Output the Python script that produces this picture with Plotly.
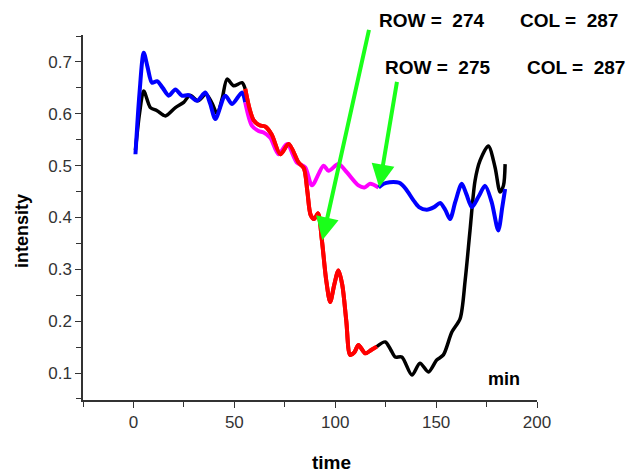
import plotly.graph_objects as go

# ROW 274 (black / red / black)
t274_a = [1, 3, 5.1, 8.4, 11.7, 15.8, 20.8, 24.9, 28, 32, 36, 39, 41.5, 44, 46.4, 49.6, 53.8, 55.4]
v274_a = [0.53, 0.60, 0.644, 0.612, 0.606, 0.596, 0.612, 0.622, 0.636, 0.625, 0.638, 0.62, 0.60, 0.63, 0.667, 0.654, 0.660, 0.648]
t274_b = [55.4, 57.5, 59.5, 62.5, 65.5, 68.5, 72.8, 76.9, 81.8, 84.5, 86.2, 87.8, 89.5, 91.5, 93.4, 95.5, 97.5,
          99.5, 101.6, 103.5, 105.5, 107.4, 109.5, 111.5, 114.9, 118, 120.6]
v274_b = [0.648, 0.61, 0.588, 0.578, 0.575, 0.56, 0.522, 0.542, 0.506, 0.495, 0.45, 0.405, 0.397, 0.408, 0.356, 0.28, 0.237,
          0.27, 0.298, 0.27, 0.20, 0.135, 0.14, 0.154, 0.138, 0.145, 0.151]
t274_c = [120.6, 124.8, 127.5, 129.7, 133, 138, 142, 146.2, 150.3, 153.6, 157.8, 161.9, 164.4, 166.8, 169.3, 171.8,
          175.9, 179.2, 181.7, 183.4, 184.2]
v274_c = [0.151, 0.16, 0.145, 0.131, 0.131, 0.096, 0.119, 0.102, 0.125, 0.135, 0.179, 0.205, 0.279, 0.375, 0.471, 0.51,
          0.538, 0.497, 0.449, 0.462, 0.503]

# ROW 275 (blue / magenta / blue)
t275_a = [1, 3, 5.1, 7, 9.2, 11.7, 14.5, 17.5, 20.8, 24, 27.4, 31.5, 35.6, 38, 40.6, 45.5, 48.9, 53.8, 55.4]
v275_a = [0.522, 0.64, 0.718, 0.69, 0.66, 0.663, 0.65, 0.635, 0.647, 0.635, 0.636, 0.625, 0.641, 0.62, 0.59, 0.635,
          0.619, 0.641, 0.622]
t275_b = [55.4, 58.7, 62, 64.5, 67.8, 71.9, 76.1, 81, 85.1, 88.5, 94.2, 96.7, 101.6, 105.8, 111.5, 114.5, 117.3, 121.5]
v275_b = [0.622, 0.577, 0.567, 0.564, 0.554, 0.522, 0.542, 0.506, 0.497, 0.462, 0.50, 0.49, 0.503, 0.487, 0.462, 0.458,
          0.465, 0.458]
t275_c = [121.5, 124, 127, 130.5, 132.2, 135, 138.8, 141.5, 145.4, 149, 152, 154.5, 156.9, 159.5, 162.7, 165, 167.7,
          171, 174.3, 177.5, 180.8, 182.8, 184.2]
v275_c = [0.458, 0.465, 0.468, 0.468, 0.466, 0.455, 0.433, 0.42, 0.415, 0.42, 0.428, 0.415, 0.397, 0.43, 0.465, 0.445,
          0.42, 0.44, 0.461, 0.43, 0.375, 0.42, 0.455]

x_ticks = [0, 50, 100, 150, 200]
y_ticks = [0.1, 0.2, 0.3, 0.4, 0.5, 0.6, 0.7]

FONT = "Arial, Liberation Sans, sans-serif"
GREEN = "#1aff1a"

fig = go.Figure()

def add(t, v, color, width):
    fig.add_trace(go.Scatter(x=t, y=v, mode="lines",
                             line=dict(color=color, width=width, shape="spline", smoothing=0.8),
                             showlegend=False, hoverinfo="skip"))

add(t274_a, v274_a, "black", 3.5)
add(t274_b, v274_b, "#ff0000", 4)
add(t274_c, v274_c, "black", 3.5)
add(t275_a, v275_a, "#0000ff", 4)
add(t275_b, v275_b, "#ff00ff", 4)
add(t275_c, v275_c, "#0000ff", 4)
# red drawn over magenta
add(t274_b, v274_b, "#ff0000", 4)

annotations = [
    dict(x=93.6, y=0.356, xref="x", yref="y", ax=47, ay=-212, text="", showarrow=True,
         arrowhead=2, arrowsize=1.15, arrowwidth=4, arrowcolor=GREEN, standoff=0),
    dict(x=121.8, y=0.458, xref="x", yref="y", ax=18, ay=-107, text="", showarrow=True,
         arrowhead=2, arrowsize=1.15, arrowwidth=4, arrowcolor=GREEN, standoff=0),
]

def txt(s, x, y, size=19, xanchor="left", angle=0):
    annotations.append(dict(text="<b>" + s + "</b>", x=x, y=y, xref="paper", yref="paper",
                            xanchor=xanchor, yanchor="middle", showarrow=False, textangle=angle,
                            font=dict(family=FONT, size=size, color="black")))

txt("ROW =\u00a0\u00a0274", 0.6476, 1.041)
txt("COL =\u00a0\u00a0287", 0.958, 1.041)
txt("ROW =\u00a0\u00a0275", 0.661, 0.912)
txt("COL =\u00a0\u00a0287", 0.9736, 0.912)
txt("min", 0.927, 0.0575, size=18, xanchor="center")
txt("time", 0.548, -0.170, size=19, xanchor="center")
txt("intensity", -0.1344, 0.463, size=18, xanchor="center", angle=-90)

axis_common = dict(showline=True, linecolor="#333", linewidth=1.5, ticks="outside", ticklen=6,
                   tickcolor="#333", tickwidth=1.2, showgrid=False, zeroline=False,
                   tickfont=dict(family=FONT, size=17, color="#333"))

fig.update_layout(
    width=631, height=473,
    margin=dict(l=83, r=94, t=35, b=73, autoexpand=False),
    paper_bgcolor="white", plot_bgcolor="white",
    xaxis=dict(range=[-25, 200], tickvals=x_ticks, ticktext=[str(v) for v in x_ticks],
               minor=dict(dtick=25, tick0=0, ticks="outside", ticklen=5, tickcolor="#333", tickwidth=1.2),
               **axis_common),
    yaxis=dict(range=[0.048, 0.752], tickvals=y_ticks, ticktext=[f"{v:.1f}" for v in y_ticks],
               minor=dict(dtick=0.05, tick0=0, ticks="outside", ticklen=5, tickcolor="#333", tickwidth=1.2),
               **axis_common),
    annotations=annotations,
)

fig.write_html("out.html")
